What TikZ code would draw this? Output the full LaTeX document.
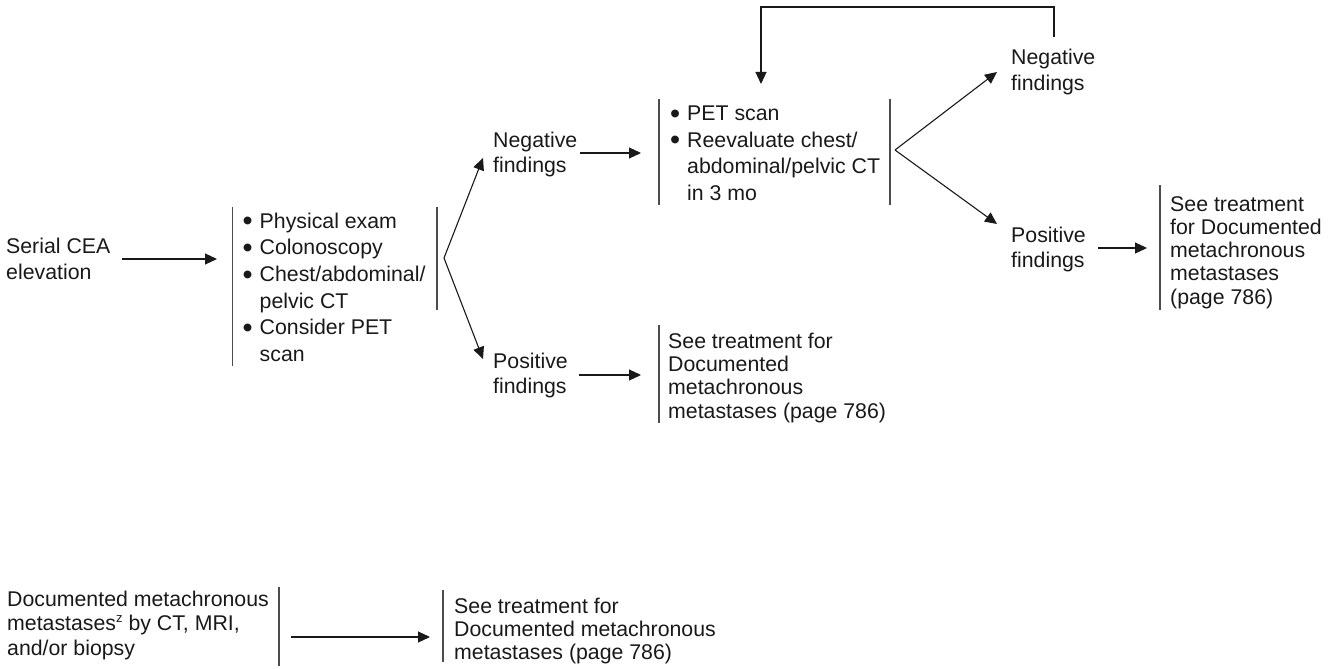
\documentclass[tikz,border=0pt]{standalone}
\usepackage{fontspec}
\usepackage{graphicx}
\setmainfont{Liberation Sans}
\usetikzlibrary{arrows.meta}
\newcommand{\bul}{\makebox[17pt][l]{\raisebox{-2.7pt}{\scalebox{1.35}{\textbullet}}}}
\newcommand{\ind}{\hspace*{17pt}}
\begin{document}
\begin{tikzpicture}[x=1pt,y=-1pt,
  txt/.style={anchor=base west, inner sep=0pt, align=left, text=black!90},
  sA/.style={txt, font=\fontsize{21.3}{26.7}\selectfont},
  sB/.style={txt, font=\fontsize{21.3}{25}\selectfont},
  sC/.style={txt, font=\fontsize{21.3}{23.3}\selectfont},
  sD/.style={txt, font=\fontsize{21.3}{24.5}\selectfont},
  bar/.style={draw=black!70, line width=1.4pt},
  ln/.style={draw=black!90, line width=1.1pt},
  arr/.style={ln, -{Triangle[length=12pt,width=11pt]}}]
\useasboundingbox (0,0) rectangle (1339,669);

% texts (anchored at the baseline of their last line)
\node[sA] (cea) at (6,279.7) {Serial CEA\\elevation};
\node[sA] (work) at (242.5,361.5) {\bul Physical exam\\\bul Colonoscopy\\\bul Chest/abdominal/\\\ind pelvic CT\\\bul Consider PET\\\ind scan};
\node[sB] (neg1) at (493,172) {Negative\\findings};
\node[sB] (pos1) at (493,393) {Positive\\findings};
\node[sA] (pet) at (670,200.5) {\bul PET scan\\\bul Reevaluate chest/\\\ind abdominal/pelvic CT\\\ind in 3 mo};
\node[sC] (see1) at (668,418) {See treatment for\\Documented\\metachronous\\metastases (page 786)};
\node[sB] (neg2) at (1011,90) {Negative\\findings};
\node[sB] (pos2) at (1011,267) {Positive\\findings};
\node[sC] (see2) at (1170,304.2) {See treatment\\for Documented\\metachronous\\metastases\\(page 786)};
\node[sD] (doc) at (7,655) {Documented metachronous\\metastases\raisebox{0.38em}{\fontsize{13}{13}\selectfont z} by CT, MRI,\\and/or biopsy};
\node[sC] (see3) at (454,659.6) {See treatment for\\Documented metachronous\\metastases (page 786)};

% bars
\draw[bar] (232.5,207) -- (232.5,366);
\draw[bar] (437,207) -- (437,310);
\draw[bar] (659,99) -- (659,205);
\draw[bar] (890,99) -- (890,205);
\draw[bar] (659,325) -- (659,423);
\draw[bar] (1160,185) -- (1160,310);
\draw[bar] (279,587) -- (279,666);
\draw[bar] (443,590) -- (443,662);

% connector points
\coordinate (a1s) at (122,259);  \coordinate (a1e) at (217,259);
\coordinate (b1) at (444,258);   \coordinate (b1u) at (483,158); \coordinate (b1d) at (483,359);
\coordinate (n1s) at (580,153);  \coordinate (n1e) at (641,153);
\coordinate (p1s) at (579,375);  \coordinate (p1e) at (641,375);
\coordinate (b2) at (895,150);   \coordinate (b2u) at (997,72);  \coordinate (b2d) at (997,224);
\coordinate (p2s) at (1098,248); \coordinate (p2e) at (1147,248);
\coordinate (ls) at (1054,37);   \coordinate (le) at (761,84);
\coordinate (ds) at (291,637);   \coordinate (de) at (430,637);

% connectors
\draw[arr] (a1s) -- (a1e);
\draw[arr] (b1) -- (b1u);
\draw[arr] (b1) -- (b1d);
\draw[arr] (n1s) -- (n1e);
\draw[arr] (p1s) -- (p1e);
\draw[arr] (b2) -- (b2u);
\draw[arr] (b2) -- (b2d);
\draw[arr] (p2s) -- (p2e);
\draw[arr] (ls) |- (761,7) -- (le);
\draw[arr] (ds) -- (de);
\end{tikzpicture}
\end{document}
